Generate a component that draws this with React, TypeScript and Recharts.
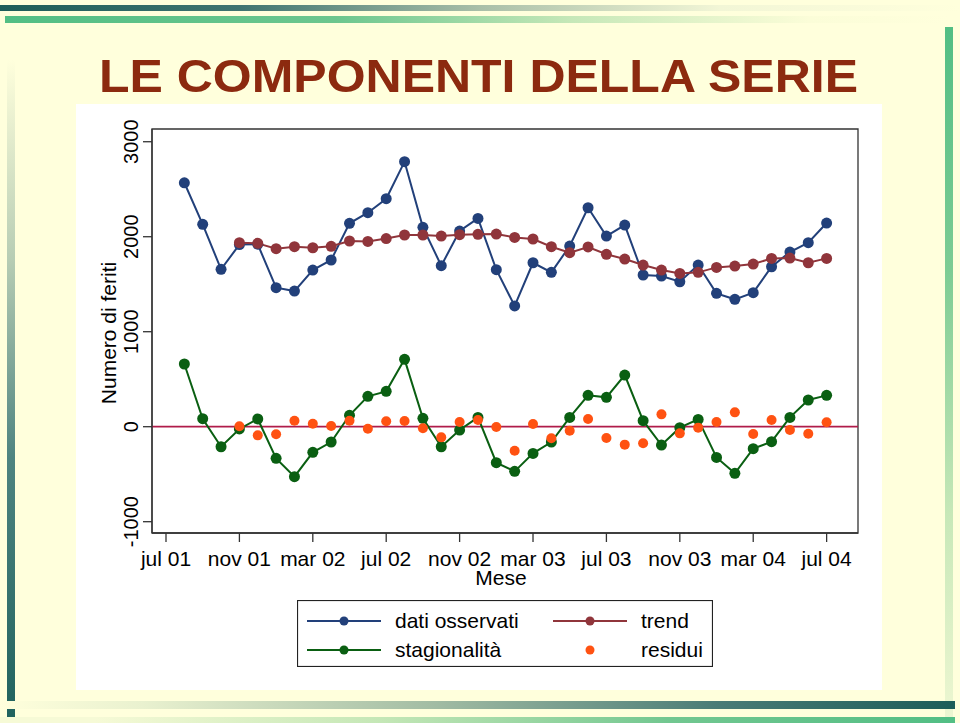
import React from 'react';
import {
  ComposedChart, Line, XAxis, YAxis, ReferenceLine, ReferenceArea, Legend, Label,
} from 'recharts';

const FONT = '"Liberation Sans", Arial, Helvetica, sans-serif';

// mesi da luglio 2001 (t = 0) a luglio 2004 (t = 36)
const TICK_MESI = [0, 4, 8, 12, 16, 20, 24, 28, 32, 36];
const ETICHETTE_MESI = ['jul 01', 'nov 01', 'mar 02', 'jul 02', 'nov 02', 'mar 03', 'jul 03', 'nov 03', 'mar 04', 'jul 04'];
const TICK_Y = [-1000, 0, 1000, 2000, 3000];
const DOM_X = [-0.763, 37.71];
const DOM_Y = [-1119, 3134];

// ago 01 .. jul 04
const osservati = [
  2568, 2130, 1657, 1917, 1920, 1463, 1428, 1649, 1755, 2141, 2253, 2400,
  2790, 2099, 1695, 2060, 2193, 1653, 1271, 1726, 1625, 1902, 2305, 2007,
  2123, 1597, 1586, 1526, 1702, 1404, 1341, 1411, 1684, 1839, 1937, 2144,
];
const trend = [
  null, null, null, 1937, 1930, 1874, 1895, 1884, 1899, 1955, 1951, 1981,
  2018, 2018, 2007, 2021, 2025, 2028, 1993, 1976, 1895, 1832, 1892, 1815,
  1765, 1702, 1649, 1614, 1625, 1677, 1691, 1712, 1772, 1775, 1726, 1772,
];
const stagionalita = [
  660, 84, -211, -24, 81, -333, -526, -270, -161, 120, 320, 372,
  709, 88, -211, -35, 98, -379, -470, -281, -161, 98, 330, 309,
  544, 63, -193, -10, 77, -323, -491, -231, -158, 98, 281, 330,
];
const residui = [
  null, null, null, 4, -91, -80, 63, 32, 7, 63, -21, 58,
  60, -17, -112, 49, 70, -3, -253, 28, -122, -42, 81, -119,
  -189, -175, 130, -70, -10, 49, 151, -77, 70, -35, -74, 46,
];

const data = osservati.map((v, i) => ({
  t: i + 1,
  osservati: v,
  trend: trend[i],
  stagionalita: stagionalita[i],
  residui: residui[i],
}));

const BLU = '#22407A';
const BORDEAUX = '#90353B';
const VERDE = '#0A5F12';
const ARANCIO = '#FF5212';

const XTick = ({ x, payload }: any) => {
  const lab = ETICHETTE_MESI[TICK_MESI.indexOf(payload.value)];
  return (
    <text x={x} y={566} textAnchor="middle" fontSize={21} fill="#000" fontFamily={FONT}>{lab}</text>
  );
};

const YTick = ({ y, payload }: any) => (
  <text
    x={138.5}
    y={y}
    transform={`rotate(-90 138.5 ${y})`}
    textAnchor="middle"
    fontSize={20}
    fill="#000"
    fontFamily={FONT}
  >
    {payload.value}
  </text>
);

const LegendBox = () => {
  const voci = [
    { x: 0, y: 21, nome: 'dati osservati', col: BLU, linea: true },
    { x: 246, y: 21, nome: 'trend', col: BORDEAUX, linea: true },
    { x: 0, y: 50, nome: 'stagionalità', col: VERDE, linea: true },
    { x: 246, y: 50, nome: 'residui', col: ARANCIO, linea: false },
  ];
  return (
    <svg width={416} height={67} style={{ display: 'block' }}>
      <rect x={0.5} y={0.5} width={415} height={66} fill="#fff" stroke="#222" strokeWidth={1.2} />
      {voci.map((v) => (
        <g key={v.nome}>
          {v.linea && <line x1={v.x + 10} x2={v.x + 84} y1={v.y} y2={v.y} stroke={v.col} strokeWidth={2} />}
          <circle cx={v.x + 47} cy={v.y} r={4.5} fill={v.col} />
          <text x={v.x + 98} y={v.y + 7} fontSize={21} fontFamily={FONT} fill="#000">{v.nome}</text>
        </g>
      ))}
    </svg>
  );
};

export default function App() {
  return (
    <div style={{ position: 'absolute', left: 0, top: 0, width: 960, height: 723, background: '#FFFFDC', overflow: 'hidden', fontFamily: FONT }}>
      {/* cornici del modello di diapositiva */}
      <div style={{ position: 'absolute', left: 0, top: 5, width: 960, height: 6, background: 'linear-gradient(to right, #1D5D59 0%, #3F7470 25%, #A9BFA8 50%, #F2F6D6 75%, #FFFFDC 100%)' }} />
      <div style={{ position: 'absolute', left: 5, top: 16, width: 945, height: 7, background: 'linear-gradient(to right, #52BE84 0%, #6CC68E 35%, #C6E8B8 60%, #FBFDD8 85%, #FFFFDC 100%)' }} />
      <div style={{ position: 'absolute', left: 945, top: 27, width: 8, height: 696, background: 'linear-gradient(to bottom, #52BE84 0%, #7DCC94 35%, #C7E8B8 70%, #EEF7D2 100%)' }} />
      <div style={{ position: 'absolute', left: 7, top: 60, width: 8, height: 663, background: 'linear-gradient(to bottom, #FFFFDC 0%, #B7CDB4 30%, #4E8480 60%, #1F625D 100%)' }} />
      <div style={{ position: 'absolute', left: 0, top: 701, width: 955, height: 8, background: 'linear-gradient(to left, #1D5D59 0%, #4A7C76 25%, #A3BDA4 55%, #E9F1CF 85%, #FFFFDC 100%)' }} />
      <div style={{ position: 'absolute', left: 0, top: 717, width: 955, height: 6, background: 'linear-gradient(to left, #52BE84 0%, #72C790 30%, #C4E7B6 60%, #F6FAD6 90%)' }} />
      <div style={{ position: 'absolute', left: 76, top: 104, width: 806, height: 586, background: '#FFFFFF' }} />

      <svg width={960} height={110} style={{ position: 'absolute', left: 0, top: 0 }}>
        <text x={478.5} y={92} textAnchor="middle" fontSize={47} fontWeight="bold" fontFamily={FONT} fill="#8C2A0F" textLength={759} lengthAdjust="spacingAndGlyphs">
          LE COMPONENTI DELLA SERIE
        </text>
      </svg>

      <div style={{ position: 'absolute', left: 0, top: 0 }}>
        <ComposedChart width={960} height={723} data={data} margin={{ top: 129, right: 102, bottom: 150, left: 112 }}>
          <XAxis
            dataKey="t"
            type="number"
            domain={DOM_X}
            allowDataOverflow
            ticks={TICK_MESI}
            tick={<XTick />}
            tickSize={9}
            height={40}
            axisLine={{ stroke: '#333', strokeWidth: 1.3 }}
            tickLine={{ stroke: '#333', strokeWidth: 1.3 }}
          >
            <Label content={() => (
              <text x={501} y={585} textAnchor="middle" fontSize={21} fontFamily={FONT} fill="#000">Mese</text>
            )} />
          </XAxis>
          <YAxis
            type="number"
            domain={DOM_Y}
            allowDataOverflow
            ticks={TICK_Y}
            tick={<YTick />}
            tickSize={9}
            width={40}
            axisLine={{ stroke: '#333', strokeWidth: 1.3 }}
            tickLine={{ stroke: '#333', strokeWidth: 1.3 }}
          >
            <Label content={() => (
              <text x={116} y={333} transform="rotate(-90 116 333)" textAnchor="middle" fontSize={21} fontFamily={FONT} fill="#000">Numero di feriti</text>
            )} />
          </YAxis>
          <ReferenceArea
            x1={DOM_X[0]} x2={DOM_X[1]} y1={DOM_Y[0]} y2={DOM_Y[1]}
            fill="#fff" fillOpacity={0} stroke="#333" strokeWidth={1.3} ifOverflow="visible"
          />
          <ReferenceLine y={0} stroke="#B01C4A" strokeWidth={1.8} />
          <Line dataKey="osservati" stroke={BLU} strokeWidth={2} dot={{ r: 5.5, fill: BLU, stroke: 'none' }} isAnimationActive={false} />
          <Line dataKey="trend" stroke={BORDEAUX} strokeWidth={2} dot={{ r: 5.5, fill: BORDEAUX, stroke: 'none' }} isAnimationActive={false} />
          <Line dataKey="stagionalita" stroke={VERDE} strokeWidth={2} dot={{ r: 5.5, fill: VERDE, stroke: 'none' }} isAnimationActive={false} />
          <Line dataKey="residui" stroke="none" strokeWidth={0} dot={{ r: 5, fill: ARANCIO, stroke: 'none', strokeWidth: 0 }} isAnimationActive={false} />
          <Legend
            content={<LegendBox />}
            layout="horizontal"
            verticalAlign="middle"
            align="center"
            wrapperStyle={{ left: 297, top: 600, width: 416, height: 67 }}
          />
        </ComposedChart>
      </div>
    </div>
  );
}
